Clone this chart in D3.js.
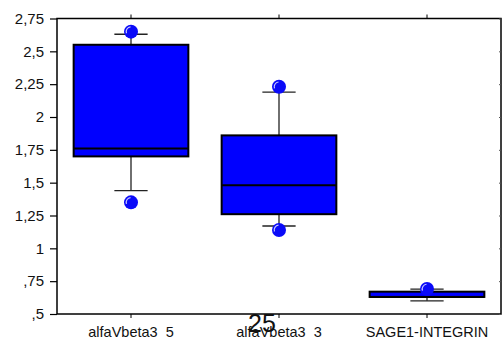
<!DOCTYPE html>
<html>
<head>
<meta charset="utf-8">
<script src="https://cdn.jsdelivr.net/npm/d3@7"></script>
<style>
  html, body { margin: 0; padding: 0; background: #fff; }
  svg { display: block; font-family: "Liberation Sans", Arial, sans-serif; }
</style>
</head>
<body>
<svg id="chart" width="502" height="342"></svg>
<script>
// Box plot summaries per group
const categories = ["alfaVbeta3  5", "alfaVbeta3  3", "SAGE1-INTEGRIN"];
const whiskerLow  = [1.44, 1.17, 0.60];
const q1          = [1.70, 1.26, 0.63];
const median      = [1.76, 1.48, 0.63];
const q3          = [2.55, 1.86, 0.67];
const whiskerHigh = [2.63, 2.19, 0.69];
const outliers    = [[2.65, 1.35], [2.23, 1.14], [0.69]];
const yTicks      = [0.5, 0.75, 1, 1.25, 1.5, 1.75, 2, 2.25, 2.5, 2.75];
const tickLabels  = [",5", ",75", "1", "1,25", "1,5", "1,75", "2", "2,25", "2,5", "2,75"];

const svg = d3.select("#chart");
const mLeft = 57, mRight = 501, mTop = 18.5, mBottom = 314;

const x = d3.scaleBand().domain(categories).range([mLeft, mRight]).paddingInner(0).paddingOuter(0);
const y = d3.scaleLinear().domain([0.5, 2.75]).range([mBottom, mTop]);
const boxW = x.bandwidth() * 0.775;

// frame
svg.append("rect")
  .attr("x", mLeft).attr("y", mTop)
  .attr("width", mRight - mLeft).attr("height", mBottom - mTop)
  .attr("fill", "none").attr("stroke", "#000").attr("stroke-width", 1.5);

// left axis
const yAxis = d3.axisLeft(y).tickValues(yTicks)
  .tickFormat((d, i) => tickLabels[i]).tickSize(7).tickPadding(6);
const gy = svg.append("g").attr("transform", `translate(${mLeft},0)`).call(yAxis);
gy.select(".domain").remove();
gy.selectAll("line").attr("stroke", "#000").attr("stroke-width", 1.2);
gy.selectAll("text").attr("font-size", 15).attr("fill", "#111")
  .attr("font-family", "Liberation Sans, Arial, sans-serif");

// right axis small ticks
const gr = svg.append("g").attr("transform", `translate(${mRight},0)`)
  .call(d3.axisLeft(y).tickValues(yTicks).tickSize(2).tickFormat(""));
gr.select(".domain").remove();
gr.selectAll("line").attr("stroke", "#555");

// bottom axis
const gx = svg.append("g").attr("transform", `translate(0,${mBottom})`)
  .call(d3.axisBottom(x).tickSize(4).tickPadding(9));
gx.select(".domain").remove();
gx.selectAll("line").attr("stroke", "#000");
gx.selectAll("text").attr("font-size", 14.5).attr("fill", "#111")
  .attr("font-family", "Liberation Sans, Arial, sans-serif")
  .style("white-space", "pre");

// top axis small ticks
const gt = svg.append("g").attr("transform", `translate(0,${mTop})`)
  .call(d3.axisTop(x).tickSize(4).tickFormat(""));
gt.select(".domain").remove();
gt.selectAll("line").attr("stroke", "#000");

// boxes
const groups = svg.append("g").selectAll("g").data(categories).join("g")
  .attr("transform", d => `translate(${x(d) + x.bandwidth() / 2},0)`);

groups.each(function(d, i) {
  const g = d3.select(this);
  const capW = boxW * 0.29;
  // whiskers
  g.append("line").attr("x1", 0).attr("x2", 0)
    .attr("y1", y(whiskerHigh[i])).attr("y2", y(q3[i]))
    .attr("stroke", "#222").attr("stroke-width", 1.3);
  g.append("line").attr("x1", 0).attr("x2", 0)
    .attr("y1", y(q1[i])).attr("y2", y(whiskerLow[i]))
    .attr("stroke", "#222").attr("stroke-width", 1.3);
  g.append("line").attr("x1", -capW / 2).attr("x2", capW / 2)
    .attr("y1", y(whiskerHigh[i])).attr("y2", y(whiskerHigh[i]))
    .attr("stroke", "#222").attr("stroke-width", 1.3);
  g.append("line").attr("x1", -capW / 2).attr("x2", capW / 2)
    .attr("y1", y(whiskerLow[i])).attr("y2", y(whiskerLow[i]))
    .attr("stroke", "#222").attr("stroke-width", 1.3);
  // box
  g.append("rect")
    .attr("x", -boxW / 2).attr("width", boxW)
    .attr("y", y(q3[i])).attr("height", y(q1[i]) - y(q3[i]))
    .attr("fill", "#0000ff").attr("stroke", "#000").attr("stroke-width", 2);
  g.append("line").attr("x1", -boxW / 2).attr("x2", boxW / 2)
    .attr("y1", y(median[i])).attr("y2", y(median[i]))
    .attr("stroke", "#000").attr("stroke-width", 2);
  // outliers
  outliers[i].forEach(v => {
    const cy = y(v);
    g.append("circle").attr("cx", 0).attr("cy", cy).attr("r", 7)
      .attr("fill", "#0a0af8");
    g.append("path")
      .attr("d", d3.arc()({innerRadius: 4.2, outerRadius: 5.4, startAngle: -1.9, endAngle: -0.1}))
      .attr("transform", `translate(0,${cy})`)
      .attr("fill", "#c8c8ff");
  });
});

// stray label drawn over the axis
svg.append("text").attr("x", 262).attr("y", 332)
  .attr("text-anchor", "middle").attr("font-size", 25).attr("fill", "#111")
  .text("25");
</script>
</body>
</html>
